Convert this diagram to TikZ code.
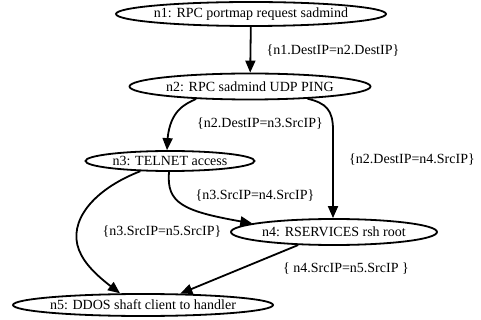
\documentclass[tikz,border=0pt]{standalone}
\usepackage{fontspec}
\setmainfont{Liberation Serif}
\usetikzlibrary{shapes.geometric,arrows.meta,bending}
\begin{document}
\begin{tikzpicture}[x=1pt,y=-1pt,
  st/.style={ellipse,draw,line width=1.8pt,inner xsep=-60pt,inner ysep=-15pt,font=\fontsize{14}{16}\selectfont},
  ed/.style={line width=1.8pt,-{Triangle[length=12pt,width=10pt,flex]}},
  lb/.style={font=\fontsize{14}{16}\selectfont,inner sep=0pt}]
\useasboundingbox (0,0) rectangle (481,320);
\node[st,minimum width=270pt,minimum height=24pt] (n1) at (251,14) {n1: RPC portmap request sadmind};
\node[st,minimum width=241pt,minimum height=26pt] (n2) at (250,86.5) {n2: RPC sadmind UDP PING};
\node[st,minimum width=169pt,minimum height=20pt] (n3) at (170,161) {n3: TELNET access};
\node[st,minimum width=206pt,minimum height=26pt] (n4) at (334,232) {n4: RSERVICES rsh root};
\node[st,minimum width=260pt,minimum height=22pt] (n5) at (143,305) {n5: DDOS shaft client to handler};

\draw[ed] (n1) -- (n2);
\draw[ed] (n2.193) .. controls (183,105) and (167,112) .. ([xshift=-3pt]n3.north);
\draw[ed] (n2.348) .. controls (326,103) and (333,110) .. (333,130) -- ([xshift=-1pt]n4.north);
\draw[ed] (n3.265) .. controls (166,205) and (185,212) .. (n4.174);
\draw[ed] (n3.199) .. controls (92,190) and (68,222) .. (79,250) .. controls (86,268) and (105,282) .. (n5.153);
\draw[ed] (n4.200) -- (n5.17);

\node[lb] (l12) at (333,51) {\{n1.DestIP=n2.DestIP\}};
\node[lb] (l23) at (260,124) {\{n2.DestIP=n3.SrcIP\}};
\node[lb] (l24) at (412,160) {\{n2.DestIP=n4.SrcIP\}};
\node[lb] (l34) at (255,196) {\{n3.SrcIP=n4.SrcIP\}};
\node[lb] (l35) at (162,232) {\{n3.SrcIP=n5.SrcIP\}};
\node[lb] (l45) at (346,269) {\{ n4.SrcIP=n5.SrcIP \}};
\end{tikzpicture}
\end{document}
